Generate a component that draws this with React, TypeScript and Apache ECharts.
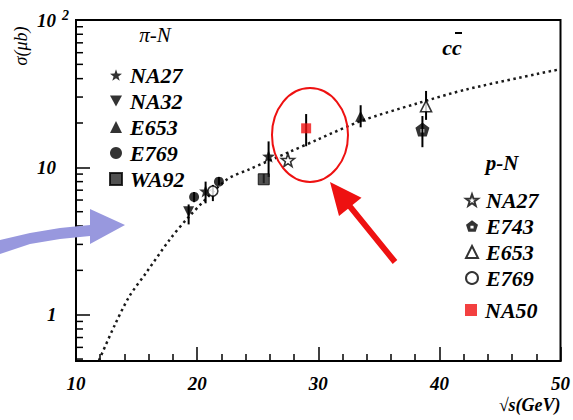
import React, { useEffect, useRef } from 'react';
import * as echarts from 'echarts';

const SERIF = 'Liberation Serif, Times New Roman, serif';

// Charm cross-sections, rows are [√s (GeV), σ (μb), σ low, σ high]
const piN_NA27 = [[20.7, 6.9, 5.7, 8.0], [25.9, 11.9, 8.6, 15.0]];
const piN_NA32 = [[19.3, 5.0, 4.1, 5.6]];
const piN_E653 = [[33.5, 22.2, 18.7, 26.4]];
const piN_E769 = [[19.75, 6.3, 5.8, 6.8], [21.8, 8.0, 7.6, 8.6]];
const piN_WA92 = [[25.5, 8.3, 7.8, 9.0]];

const pN_NA27 = [[27.5, 11.2, 11.2, 11.2]];
const pN_E743 = [[38.6, 18.1, 13.7, 22.3]];
const pN_E653 = [[38.9, 26.0, 21.0, 33.0]];
const pN_E769 = [[21.3, 6.9, 5.9, 7.6]];
const pN_NA50 = [[29.0, 18.4, 13.9, 23.0]];

// Theory prediction drawn as the dotted curve
const curveS = [11.9, 13.2, 14.4, 15.8, 17.7, 19.3, 22.4, 24.3, 27.5, 30, 33.5, 38.2, 42.3, 50];
const curveSigma = [0.49, 0.85, 1.33, 1.93, 3.2, 4.6, 8.2, 9.7, 12.6, 15.5, 20.6, 27.2, 33.9, 46.4];

// Axis ranges and log minor tick positions
const xRange = [10, 50];
const yRange = [0.485, 100];
const yMinorTicks = [0.5, 0.6, 0.7, 0.8, 0.9, 2, 3, 4, 5, 6, 7, 8, 9, 20, 30, 40, 50, 60, 70, 80, 90];

const STAR =
  'path://M0,-10 L2.35,-3.24 L9.51,-3.09 L3.8,1.24 L5.88,8.09 L0,4 L-5.88,8.09 L-3.8,1.24 L-9.51,-3.09 L-2.35,-3.24 Z';
const DOWN_TRI = 'path://M-6,-5 L6,-5 L0,6 Z';
const PENTA_HOLE =
  'path://M0,-10 L9.51,-3.09 L5.88,8.09 L-5.88,8.09 L-9.51,-3.09 Z M-2.5,-1.5 L-2.5,3 L2.5,3 L2.5,-1.5 Z';

const PI = ' (π-N)';
const P = ' (p-N)';

const labelFont = {
  fontFamily: SERIF,
  fontWeight: 'bold' as const,
  fontStyle: 'italic' as const,
  fontSize: 19,
  color: '#000',
};

function scatter(name: string, data: number[][], symbol: string, size: number, fill: string, hollow = false) {
  return {
    type: 'scatter',
    name,
    data,
    encode: { x: 0, y: 1 },
    symbol,
    symbolSize: size,
    z: 4,
    itemStyle: hollow
      ? { color: '#fff', borderColor: '#000', borderWidth: 1.6 }
      : { color: fill, borderColor: fill === '#262626' ? '#000' : fill, borderWidth: fill === '#262626' ? 1 : 0 },
  };
}

export default function App() {
  const ref = useRef<HTMLDivElement>(null);

  useEffect(() => {
    if (!ref.current) return;
    const chart = echarts.init(ref.current, undefined, { renderer: 'svg' });

    const allPoints = [
      ...piN_NA27, ...piN_NA32, ...piN_E653, ...piN_E769, ...piN_WA92,
      ...pN_NA27, ...pN_E743, ...pN_E653, ...pN_E769, ...pN_NA50,
    ];

    const legendBase = {
      orient: 'vertical',
      selectedMode: false,
      itemWidth: 12,
      itemHeight: 12,
      formatter: (n: string) => n.replace(PI, '').replace(P, ''),
      textStyle: { ...labelFont, fontSize: 22, lineHeight: 22, padding: [0, 0, 0, 3] },
    };

    chart.setOption({
      animation: false,
      backgroundColor: '#fff',
      grid: {
        left: 76,
        right: 9,
        top: 20,
        bottom: 59,
        show: true,
        borderColor: '#000',
        borderWidth: 2,
      },
      legend: [
        {
          ...legendBase,
          left: 104,
          top: 59,
          itemGap: 4,
          data: ['NA27' + PI, 'NA32' + PI, 'E653' + PI, 'E769' + PI, 'WA92' + PI],
        },
        {
          ...legendBase,
          left: 460,
          top: 184,
          itemGap: 4,
          data: ['NA27' + P, 'E743' + P, 'E653' + P, 'E769' + P],
        },
        {
          ...legendBase,
          left: 460,
          top: 294,
          data: ['NA50' + P],
        },
      ],
      xAxis: {
        type: 'value',
        min: xRange[0],
        max: xRange[1],
        interval: 10,
        name: '√s(GeV)',
        nameLocation: 'end',
        nameGap: 0,
        nameTextStyle: { ...labelFont, fontSize: 18, align: 'right', verticalAlign: 'top', padding: [35, 0, 0, 0] },
        axisLine: { lineStyle: { color: '#000', width: 2 } },
        axisTick: { inside: true, length: 14, lineStyle: { color: '#000', width: 1.5 } },
        minorTick: { show: true, splitNumber: 5, length: 7, lineStyle: { color: '#000', width: 1.5 } },
        splitLine: { show: false },
        axisLabel: { ...labelFont, fontSize: 19, margin: 13 },
      },
      yAxis: {
        type: 'log',
        logBase: 10,
        min: yRange[0],
        max: yRange[1],
        axisLine: { lineStyle: { color: '#000', width: 2 } },
        axisTick: { inside: true, length: 14, lineStyle: { color: '#000', width: 1.5 } },
        splitLine: { show: false },
        axisLabel: {
          align: 'left',
          margin: 39,
          formatter: (v: number) => {
            const e = Math.log10(v);
            const r = Math.round(e);
            if (Math.abs(e - r) > 1e-6) return '';
            if (r === 0) return '{one|1}';
            if (r === 1) return '{b|10}';
            if (r === 2) return '{b|10}{s|2}';
            return '';
          },
          rich: {
            b: { ...labelFont, fontSize: 19 },
            one: { ...labelFont, fontSize: 19, padding: [0, 0, 0, 10] },
            s: { ...labelFont, fontSize: 14, padding: [0, 0, 10, 6] },
          },
        },
      },
      series: [
        {
          type: 'line',
          name: 'theory',
          data: curveS.map((s, i) => [s, curveSigma[i]]),
          smooth: 0.3,
          symbol: 'none',
          z: 2,
          lineStyle: { color: '#1a1a1a', width: 2.5, type: [2.5, 3.5] },
        },
        {
          type: 'custom',
          name: 'errors',
          z: 3,
          data: allPoints.map((p) => [p[0], p[2], p[3]]),
          encode: { x: 0, y: [1, 2] },
          renderItem: (_params: any, api: any) => {
            const a = api.coord([api.value(0), api.value(1)]);
            const b = api.coord([api.value(0), api.value(2)]);
            return {
              type: 'line',
              shape: { x1: a[0], y1: a[1], x2: b[0], y2: b[1] },
              style: { stroke: '#000', lineWidth: 2 },
            };
          },
        },
        {
          type: 'custom',
          name: 'minorTicks',
          z: 5,
          silent: true,
          clip: false,
          data: yMinorTicks.map((v) => [xRange[0], v]),
          encode: { x: 0, y: 1 },
          renderItem: (_params: any, api: any) => {
            const p = api.coord([api.value(0), api.value(1)]);
            return {
              type: 'line',
              shape: { x1: p[0], y1: p[1], x2: p[0] + 7, y2: p[1] },
              style: { stroke: '#000', lineWidth: 1.5 },
            };
          },
        },
        scatter('NA27' + PI, piN_NA27, STAR, 13, '#000'),
        scatter('NA32' + PI, piN_NA32, DOWN_TRI, 11, '#000'),
        scatter('E653' + PI, piN_E653, 'triangle', 11, '#000'),
        scatter('E769' + PI, piN_E769, 'circle', 10, '#000'),
        scatter('WA92' + PI, piN_WA92, 'rect', 11, '#262626'),
        scatter('NA27' + P, pN_NA27, STAR, 13, '#000', true),
        scatter('E743' + P, pN_E743, PENTA_HOLE, 14, '#000'),
        scatter('E653' + P, pN_E653, 'triangle', 11, '#000', true),
        scatter('E769' + P, pN_E769, 'circle', 10, '#000', true),
        scatter('NA50' + P, pN_NA50, 'rect', 10, '#f01010'),
      ],
      graphic: [
        {
          type: 'text',
          x: 21,
          y: 46,
          rotation: Math.PI / 2,
          style: {
            text: 'σ(μb)',
            font: `italic 18px ${SERIF}`,
            fill: '#000',
            align: 'center',
            verticalAlign: 'middle',
          },
        },
        {
          type: 'text',
          x: 155,
          y: 35,
          style: { text: 'π-N', font: `italic 21px ${SERIF}`, fill: '#000', align: 'center', verticalAlign: 'middle' },
        },
        {
          type: 'text',
          x: 502,
          y: 163,
          style: { text: 'p-N', font: `italic bold 21px ${SERIF}`, fill: '#000', align: 'center', verticalAlign: 'middle' },
        },
        {
          type: 'text',
          x: 452,
          y: 47,
          style: { text: 'cc', font: `italic bold 22px ${SERIF}`, fill: '#000', align: 'center', verticalAlign: 'middle' },
        },
        {
          type: 'line',
          shape: { x1: 455, y1: 33, x2: 462, y2: 33 },
          style: { stroke: '#000', lineWidth: 2 },
        },
        {
          type: 'ellipse',
          shape: { cx: 310, cy: 135, rx: 38, ry: 47 },
          style: { fill: 'none', stroke: '#ee1111', lineWidth: 2 },
          z: 10,
        },
        {
          type: 'polygon',
          shape: {
            points: [
              [397.3, 260.1], [352.5, 205], [361.5, 197.7], [330, 182],
              [339, 216], [348, 208.8], [392.7, 263.9],
            ],
          },
          style: { fill: '#ee1111' },
          z: 10,
        },
        {
          type: 'polygon',
          shape: {
            points: [
              [0, 240], [30, 233], [60, 228], [90, 225], [90, 209], [125, 225],
              [90, 244], [90, 236], [60, 239], [30, 244], [0, 254],
            ],
          },
          style: { fill: '#9898de' },
          z: 10,
        },
      ],
    });

    return () => chart.dispose();
  }, []);

  return (
    <div
      ref={ref}
      style={{ position: 'fixed', left: 0, top: 0, width: 573, height: 420, background: '#fff' }}
    />
  );
}
